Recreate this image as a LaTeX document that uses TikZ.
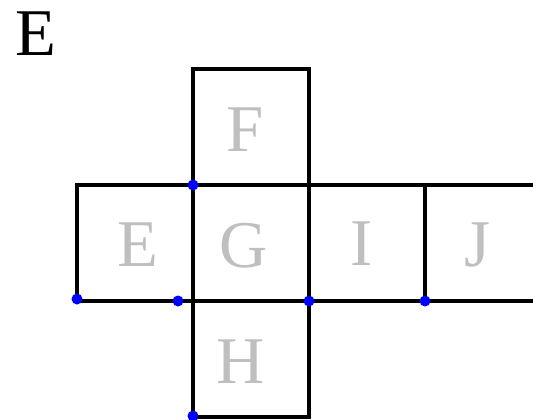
\documentclass[tikz,border=0pt]{standalone}
\usepackage{fontspec}
\setmainfont{Liberation Serif}
\usepackage{tikz}

\begin{document}
\begin{tikzpicture}[x=0.02cm,y=-0.02cm,
  net/.style={line width=1.8pt, line cap=rect},
  face/.style={text=black!25, font=\fontsize{38}{40}\selectfont, inner sep=0pt},
  blue dot/.style={fill=blue, draw=none},
  ]
  \useasboundingbox (0,0) rectangle (533,419);
  \node[face, text=black] (title) at (36,34) {E};
  \coordinate (P1) at (193,185);
  \coordinate (P2) at (77,299);
  \coordinate (P3) at (178,301);
  \coordinate (P4) at (309,301);
  \coordinate (P5) at (425,301);
  \coordinate (P6) at (193,416);
  \draw[net] (193,69) rectangle (309,417);
  \draw[net] (533,185) -- (77,185) -- (77,301) -- (533,301);
  \draw[net] (425,185) -- (425,301);
  \node[face] (F) at (245,130) {F};
  \node[face] (E) at (138,245) {E};
  \node[face] (G) at (244,246) {G};
  \node[face] (I) at (362,244) {I};
  \node[face] (J) at (477,245) {J};
  \node[face] (H) at (241,362) {H};
  \foreach \p in {P1,P2,P3,P4,P5,P6}
    \fill[blue dot] (\p) circle (5.5);
\end{tikzpicture}
\end{document}
